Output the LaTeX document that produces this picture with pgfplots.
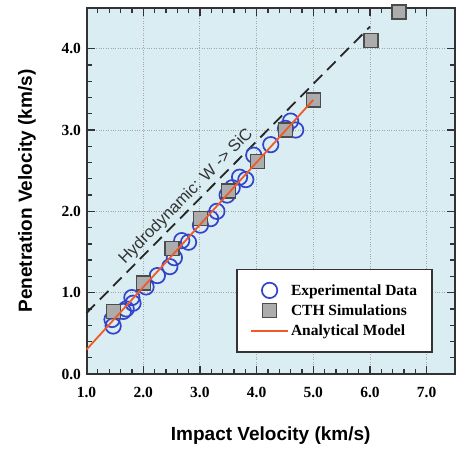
\documentclass[border=0pt]{standalone}
\usepackage{pgfplots}
\pgfplotsset{compat=1.18}
\usepackage{fontspec}
\setmainfont{Liberation Serif}
\setsansfont{Liberation Sans}
\definecolor{bgblue}{HTML}{D9EDF3}
\definecolor{modelred}{HTML}{F05A28}
\definecolor{expblue}{HTML}{3344CC}
\definecolor{framegray}{HTML}{333333}
\pgfplotsset{
  markleg/.style={legend image code/.code={\draw[##1] plot coordinates {(0.65cm,0cm)};}},
  lineleg/.style={legend image code/.code={\draw[##1] (0cm,0cm) -- (1.3cm,0cm);}},
}
\begin{document}
\begin{tikzpicture}
\begin{axis}[
  name=ax,
  scale only axis,
  width=368.5pt, height=366pt,
  xmin=1.0, xmax=7.5, ymin=0, ymax=4.5,
  xtick={1,2,...,7}, ytick={0,1,...,4},
  minor x tick num=4, minor y tick num=4,
  tick align=inside,
  major tick length=8pt, minor tick length=5pt,
  every tick/.style={framegray, line width=1.3pt},
  axis line style={framegray, line width=2pt},
  axis background/.style={fill=bgblue},
  grid=major,
  major grid style={gray!70, dotted, line width=0.9pt},
  clip=false,
  clip marker paths=true,
  /pgf/number format/assume math mode=true,
  /pgf/number format/.cd, fixed, fixed zerofill, precision=1,
  /pgfplots/.cd,
  ticklabel style={font=\bfseries\fontsize{15.5}{15.5}\selectfont},
  xticklabel style={yshift=-10pt},
  yticklabel style={xshift=-2pt},
  xlabel={\sffamily\bfseries Impact Velocity (km/s)},
  ylabel={\sffamily\bfseries Penetration Velocity (km/s)},
  label style={font=\sffamily\bfseries\fontsize{19}{19}\selectfont},
  xlabel style={at={(axis description cs:0.5,-0.167)}, anchor=center},
  ylabel style={at={(axis description cs:-0.1615,0.5)}, anchor=center},
  legend style={at={(0.94,0.058)}, anchor=south east, draw=framegray, line width=1.5pt,
    fill=white, font=\bfseries\fontsize{15.5}{18}\selectfont, inner xsep=13pt, inner ysep=13pt,
    row sep=4pt},
  legend cell align=left,
]
% hydrodynamic line
\addplot[black!85, line width=1.8pt, dash pattern=on 12pt off 7pt, forget plot] coordinates {(1.0,0.75) (6.0,4.27)};
% experimental data
\addplot[only marks, mark=o, mark size=7.7pt, line width=1.7pt, draw=expblue, mark options={fill=white}, markleg] coordinates {
(1.47,0.59) (1.45,0.67) (1.65,0.77) (1.70,0.80) (1.80,0.94) (1.82,0.87)
(2.05,1.07) (2.25,1.21) (2.47,1.32) (2.55,1.43) (2.68,1.64) (2.80,1.62)
(3.01,1.83) (3.19,1.91) (3.30,2.00) (3.48,2.20) (3.57,2.29) (3.70,2.42)
(3.81,2.39) (3.95,2.69) (4.25,2.82) (4.51,3.02) (4.60,3.11) (4.69,3.00)
};
\addlegendentry{Experimental Data}
% CTH
\addplot[only marks, mark=square*, mark size=7pt, line width=1.3pt, draw=black!70, fill=gray!65, markleg] coordinates {
(1.48,0.77) (2.0,1.12) (2.51,1.54) (3.01,1.91) (3.50,2.25) (4.02,2.61)
(4.51,3.00) (5.01,3.37) (6.02,4.10) (6.51,4.45)
};
\addlegendentry{CTH Simulations}
% analytical model
\addplot[modelred, line width=1.8pt, lineleg] coordinates {(1.0,0.30) (5.0,3.37)};
\addlegendentry{Analytical Model}
\node[rotate=45.4, font=\sffamily\fontsize{16.5}{16.5}\selectfont, text=black!80] at (axis cs:2.76,2.18) {Hydrodynamic: W -> SiC};
\end{axis}
\pgfresetboundingbox
\path ([xshift=-86.5pt,yshift=-80pt]ax.south west) rectangle ([xshift=2pt,yshift=8pt]ax.north east);
\end{tikzpicture}
\end{document}
